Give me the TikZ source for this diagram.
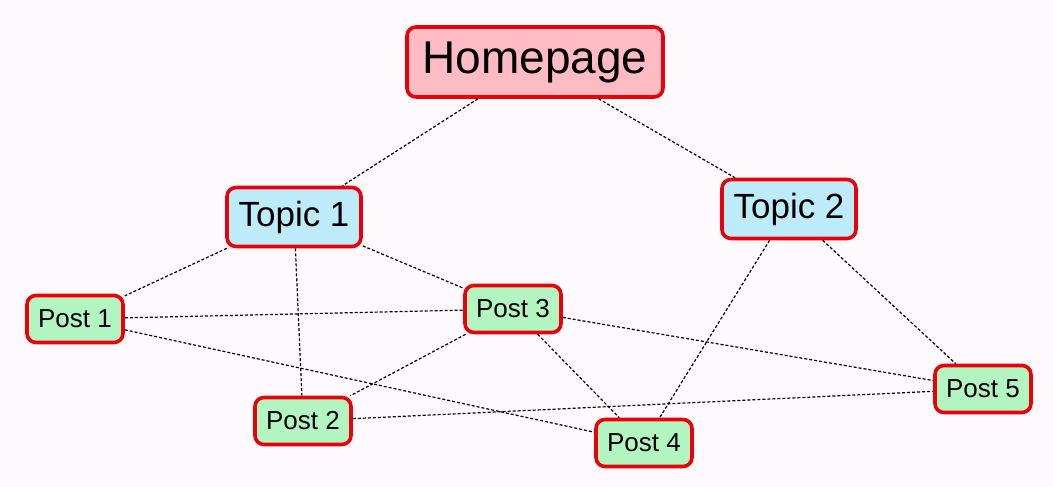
\documentclass[tikz,border=0pt]{standalone}
\usepackage{fontspec}
\setmainfont{Liberation Sans}
\definecolor{bgpink}{HTML}{FDF9FC}
\definecolor{homefill}{HTML}{FFBBC3}
\definecolor{topicfill}{HTML}{BDEBF9}
\definecolor{postfill}{HTML}{B3F5C0}
\definecolor{boxred}{HTML}{E8000B}
\tikzset{
  box/.style={draw=boxred, line width=3.6pt, rounded corners=9pt, inner sep=0pt},
  homebox/.style={box, fill=homefill, minimum width=256pt, minimum height=70pt, font=\fontsize{46}{50}\selectfont},
  topicbox/.style={box, fill=topicfill, minimum width=134pt, minimum height=59pt, font=\fontsize{35}{40}\selectfont},
  postbox/.style={box, fill=postfill, minimum width=96pt, minimum height=47pt, font=\fontsize{26}{30}\selectfont},
  link/.style={line width=1.2pt, dash pattern=on 3pt off 2pt}
}
\begin{document}
\begin{tikzpicture}[x=1pt, y=-1pt]
    \fill[bgpink] (0,0) rectangle (1053,487);
    \useasboundingbox (0,0) rectangle (1053,487);

    \node[homebox] (home) at (535,62) {Homepage};
    \node[topicbox] (t1) at (294,217) {Topic 1};
    \node[topicbox] (t2) at (789,209) {Topic 2};
    \node[postbox] (p1) at (75,319) {Post 1};
    \node[postbox] (p2) at (303,421) {Post 2};
    \node[postbox] (p3) at (513,309) {Post 3};
    \node[postbox] (p4) at (644,443) {Post 4};
    \node[postbox] (p5) at (983,389) {Post 5};

    \foreach \a/\b in {home/t1, home/t2, t1/p1, t1/p2, t1/p3, t2/p4, t2/p5,
      p1/p3, p1/p4, p3/p2, p3/p4, p3/p5, p2/p5}
      \draw[link] (\a) -- (\b);
\end{tikzpicture}
\end{document}
